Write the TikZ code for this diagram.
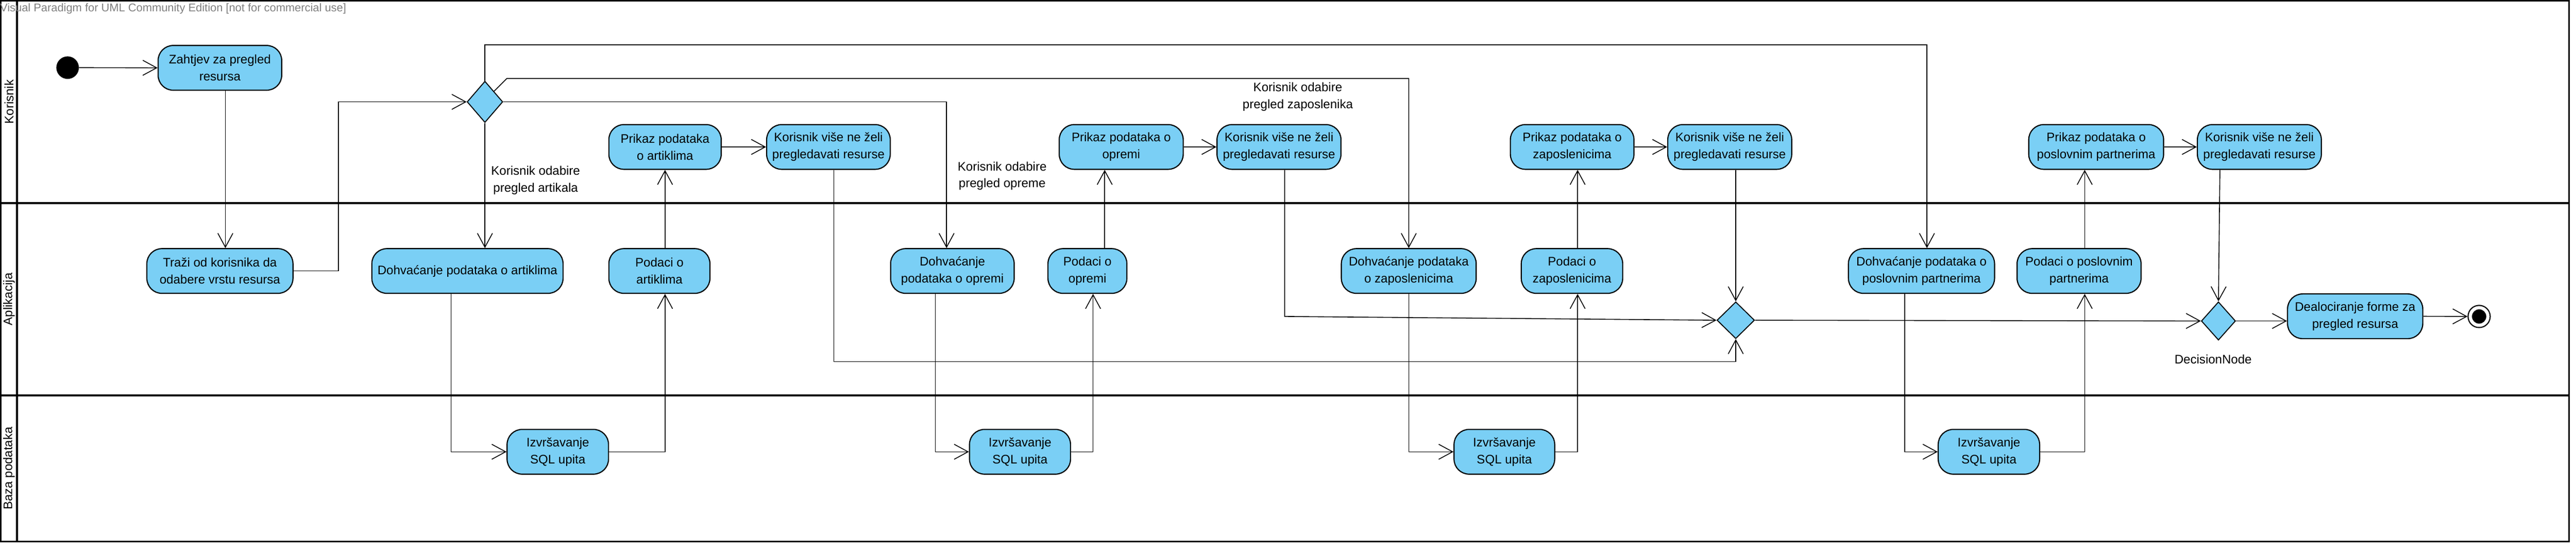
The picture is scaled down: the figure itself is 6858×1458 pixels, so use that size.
\documentclass[tikz,border=0pt]{standalone}
\usepackage{fontspec}
\setmainfont{Liberation Sans}
\usetikzlibrary{shapes.geometric,arrows.meta}
\definecolor{actfill}{RGB}{122,207,245}
\definecolor{wmgray}{RGB}{128,128,128}
\begin{document}
\begin{tikzpicture}[x=1pt,y=-1pt,
  txt/.style={font=\fontsize{33}{45}\selectfont,align=center},
  act/.style={txt,draw,line width=3pt,fill=actfill,rounded corners=40pt,inner sep=4pt,minimum height=119pt},
  dia/.style={diamond,draw,line width=2.6pt,fill=actfill,inner sep=0pt},
  flow/.style={line width=2.2pt,-{Straight Barb[length=37pt,width=40pt]}},
  plain/.style={line width=2.2pt},
  lane/.style={line width=5pt},
  lanelbl/.style={txt,rotate=90,inner sep=0pt}
]
\useasboundingbox (0,0) rectangle (6858,1458);
% swimlanes
\draw[line width=4pt] (2,2) rectangle (6840,1441);
\draw[lane] (45,2) -- (45,1441);
\draw[lane] (2,540) -- (6840,540);
\draw[lane] (2,1052) -- (6840,1052);
\node[lanelbl] (lKor) at (24,271) {Korisnik};
\node[lanelbl] (lApl) at (24,796) {Aplikacija};
\node[lanelbl] (lBaz) at (24,1246) {Baza podataka};
\node[anchor=base west,inner sep=0pt,text=wmgray,font=\fontsize{30}{36}\selectfont] (wm) at (0,31) {Visual Paradigm for UML Community Edition [not for commercial use]};

% nodes
\node[circle,fill=black,minimum size=60pt,inner sep=0pt] (init) at (180,180) {};
\node[act,minimum width=329pt] (zahtjev) at (585.5,180.5) {Zahtjev za pregled\\resursa};
\node[act,minimum width=389pt] (trazi) at (585.5,721) {Traži od korisnika da\\odabere vrstu resursa};
\node[dia,minimum width=95pt,minimum height=110pt] (dec1) at (1291,271) {};

\node[act,minimum width=509pt] (dohvArt) at (1244.5,721) {Dohvaćanje podataka o artiklima};
\node[act,minimum width=270pt] (izv1) at (1485,1202) {Izvršavanje\\SQL upita};
\node[act,minimum width=269pt] (podArt) at (1755.5,721) {Podaci o\\artiklima};
\node[act,minimum width=299pt] (prikArt) at (1770.5,391) {Prikaz podataka\\o artiklima};
\node[act,minimum width=329pt] (kvn1) at (2205.5,391) {Korisnik više ne želi\\pregledavati resurse};

\node[act,minimum width=329pt] (dohvOpr) at (2535.5,721) {Dohvaćanje\\podataka o opremi};
\node[act,minimum width=269pt] (izv2) at (2715.5,1202) {Izvršavanje\\SQL upita};
\node[act,minimum width=210pt] (podOpr) at (2895,721) {Podaci o\\opremi};
\node[act,minimum width=330pt] (prikOpr) at (2985,391) {Prikaz podataka o\\opremi};
\node[act,minimum width=330pt] (kvn2) at (3405,391) {Korisnik više ne želi\\pregledavati resurse};

\node[act,minimum width=359pt] (dohvZap) at (3750.5,721) {Dohvaćanje podataka\\o zaposlenicima};
\node[act,minimum width=268pt] (izv3) at (4005,1202) {Izvršavanje\\SQL upita};
\node[act,minimum width=270pt] (podZap) at (4185,721) {Podaci o\\zaposlenicima};
\node[act,minimum width=329pt] (prikZap) at (4185.5,391) {Prikaz podataka o\\zaposlenicima};
\node[act,minimum width=330pt] (kvn3) at (4605,391) {Korisnik više ne želi\\pregledavati resurse};

\node[dia,minimum width=100pt,minimum height=98pt] (join) at (4621,852) {};

\node[act,minimum width=389pt] (dohvPar) at (5115.5,721) {Dohvaćanje podataka o\\poslovnim partnerima};
\node[act,minimum width=270pt] (izv4) at (5295,1202) {Izvršavanje\\SQL upita};
\node[act,minimum width=330pt] (podPar) at (5535,721) {Podaci o poslovnim\\partnerima};
\node[act,minimum width=359pt] (prikPar) at (5580.5,391) {Prikaz podataka o\\poslovnim partnerima};
\node[act,minimum width=330pt] (kvn4) at (6015,391) {Korisnik više ne želi\\pregledavati resurse};

\node[dia,minimum width=91pt,minimum height=102pt] (dec3) at (5906,854) {};
\node[act,minimum width=360pt] (dealoc) at (6270,841.5) {Dealociranje forme za\\pregled resursa};
\node[circle,draw,line width=3pt,fill=white,minimum size=59pt,inner sep=0pt] (fin) at (6600,842) {};
\node[circle,fill=black,minimum size=38pt,inner sep=0pt] (finDot) at (fin) {};

% labels
\node[txt] (lblArt) at (1426,480) {Korisnik odabire\\pregled artikala};
\node[txt] (lblOpr) at (2668,468) {Korisnik odabire\\pregled opreme};
\node[txt] (lblZap) at (3455,258) {Korisnik odabire\\pregled zaposlenika};
\node[txt] (lblDec) at (5892,956) {DecisionNode};

% connectors
\draw[flow] (init.east) -- (zahtjev.west);
\draw[flow] ([xshift=14.5pt]zahtjev.south) -- ([xshift=14.5pt]trazi.north);
\draw[flow] (trazi.east) -- ++(120,0) |- (dec1.west);
\draw[flow] (dec1.south) -- (dec1.south |- dohvArt.north);
\draw[flow] (dec1.east) -| ([xshift=-15.5pt]dohvOpr.north);
\draw[flow] (dec1.north east) -- ++(34,-34) -| (dohvZap.north);
\draw[flow] (dec1.north) -- ++(0,-95) -| ([xshift=14.5pt]dohvPar.north);

\draw[flow] ([xshift=-43.5pt]dohvArt.south) |- (izv1.west);
\draw[flow] (izv1.east) -| (prikArt.south |- podArt.south);
\draw[flow] (prikArt.south |- podArt.north) -- (prikArt.south);
\draw[flow] (prikArt.east) -- (kvn1.west);
\draw[flow] ([xshift=14.5pt]kvn1.south) -- ++(0,510) -| (join.south);

\draw[flow] ([xshift=-45.5pt]dohvOpr.south) |- (izv2.west);
\draw[flow] (izv2.east) -| ([xshift=15pt]podOpr.south);
\draw[flow] ([xshift=46pt]podOpr.north) -- ([xshift=46pt]podOpr.north |- prikOpr.south);
\draw[flow] (prikOpr.east) -- (kvn2.west);
\draw[flow] ([xshift=15pt]kvn2.south) -- ++(0,390) -- (join.west);

\draw[flow] (dohvZap.south) |- (izv3.west);
\draw[flow] (izv3.east) -| ([xshift=15pt]podZap.south);
\draw[flow] ([xshift=15pt]podZap.north) -- ([xshift=15pt]podZap.north |- prikZap.south);
\draw[flow] (prikZap.east) -- (kvn3.west);
\draw[flow] (join.north |- kvn3.south) -- (join.north);

\draw[flow] ([xshift=-44.5pt]dohvPar.south) |- (izv4.west);
\draw[flow] (izv4.east) -| ([xshift=15pt]podPar.south);
\draw[flow] ([xshift=15pt]podPar.north) -- ([xshift=15pt]podPar.north |- prikPar.south);
\draw[flow] (prikPar.east) -- (kvn4.west);
\draw[flow] ([xshift=-105pt]kvn4.south) -- (dec3.north);

\draw[flow] (join.east) -- (dec3.west);
\draw[flow] (dec3.east) -- (dec3.east -| dealoc.west);
\draw[flow] (dealoc.east) -- (fin.west);
\end{tikzpicture}
\end{document}
